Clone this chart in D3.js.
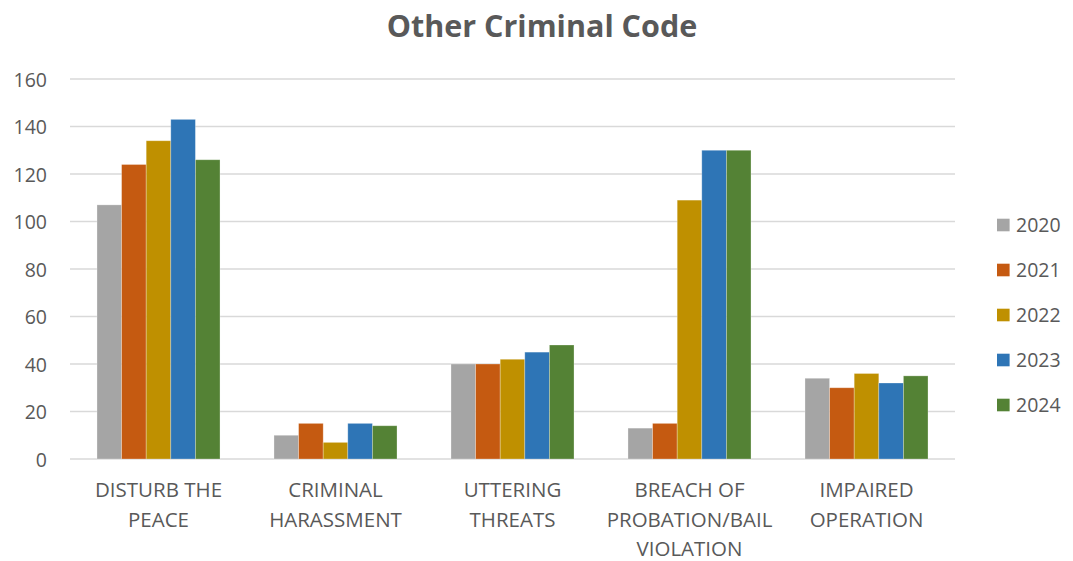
<!DOCTYPE html>
<html>
<head>
<meta charset="utf-8">
<script src="https://cdn.jsdelivr.net/npm/d3@7"></script>
<style>
  html, body { margin: 0; padding: 0; background: #fff; }
  svg { display: block; }
  text { font-family: "Open Sans", "DejaVu Sans", sans-serif; fill: #595959; }
</style>
</head>
<body>
<svg id="chart" width="1073" height="561"></svg>
<script>
const title = "Other Criminal Code";
const categories = [
  ["DISTURB THE", "PEACE"],
  ["CRIMINAL", "HARASSMENT"],
  ["UTTERING", "THREATS"],
  ["BREACH OF", "PROBATION/BAIL", "VIOLATION"],
  ["IMPAIRED", "OPERATION"]
];
const years = ["2020", "2021", "2022", "2023", "2024"];
const colors = ["#a5a5a5", "#c55a11", "#bf9000", "#2e75b6", "#548235"];
const values2020 = [107, 10, 40, 13, 34];
const values2021 = [124, 15, 40, 15, 30];
const values2022 = [134, 7, 42, 109, 36];
const values2023 = [143, 15, 45, 130, 32];
const values2024 = [126, 14, 48, 130, 35];
const series = [values2020, values2021, values2022, values2023, values2024];
const yTicks = [0, 20, 40, 60, 80, 100, 120, 140, 160];

(function() {
const svg = d3.select("#chart");
const mLeft = 70, mRight = 955, mTop = 79, mBottom = 459;

const catKeys = categories.map(c => c.join(" "));
const x0 = d3.scaleBand().domain(catKeys).range([mLeft, mRight]).paddingInner(0.305).paddingOuter(0.1525);
const x1 = d3.scaleBand().domain(years).range([0, x0.bandwidth()]);
const y = d3.scaleLinear().domain([0, 160]).range([mBottom, mTop]);

// gridlines
svg.append("g").selectAll("line").data(yTicks).join("line")
  .attr("x1", mLeft).attr("x2", mRight)
  .attr("y1", d => y(d)).attr("y2", d => y(d))
  .attr("stroke", "#d9d9d9").attr("stroke-width", 1.3);

// y axis labels
const yAxis = d3.axisLeft(y).tickValues(yTicks).tickSize(0).tickPadding(0);
const ya = svg.append("g").attr("transform", `translate(47,0)`).call(yAxis);
ya.select(".domain").remove();
ya.selectAll("text").attr("font-size", 19.5).attr("fill", "#595959")
  .style("font-family", "'Open Sans', sans-serif").attr("dy", "0.36em");

// bars
const groups = svg.append("g").selectAll("g").data(catKeys).join("g")
  .attr("transform", d => `translate(${x0(d)},0)`);
groups.selectAll("rect").data((d, i) => years.map((yr, j) => ({yr, v: series[j][i], c: colors[j]})))
  .join("rect")
  .attr("x", d => x1(d.yr))
  .attr("width", x1.bandwidth())
  .attr("y", d => y(d.v))
  .attr("height", d => y(0) - y(d.v))
  .attr("fill", d => d.c)
  .attr("stroke", "#ffffff").attr("stroke-opacity", 0.35).attr("stroke-width", 0.8);

// category labels
const catG = svg.append("g").selectAll("text").data(categories).join("text")
  .attr("text-anchor", "middle")
  .attr("font-size", 20.5)
  .attr("x", (d, i) => x0(catKeys[i]) + x0.bandwidth() / 2)
  .attr("y", 497);
catG.selectAll("tspan").data(d => d).join("tspan")
  .attr("x", function() { return d3.select(this.parentNode).attr("x"); })
  .attr("dy", (d, i) => i === 0 ? 0 : 29.5)
  .text(d => d);

// title
svg.append("text").attr("x", 542).attr("y", 36.5).attr("text-anchor", "middle")
  .attr("font-size", 30.5).attr("font-weight", "bold").attr("fill", "#595959").text(title);

// legend
const leg = svg.append("g").selectAll("g").data(years).join("g")
  .attr("transform", (d, i) => `translate(997,${225 + i * 45})`);
leg.append("rect").attr("x", 0).attr("y", -6.3).attr("width", 12.6).attr("height", 12.6)
  .attr("fill", (d, i) => colors[i]);
leg.append("text").attr("x", 19).attr("y", 0).attr("dy", "0.36em")
  .attr("font-size", 19.5).text(d => d);
})();
</script>
</body>
</html>
